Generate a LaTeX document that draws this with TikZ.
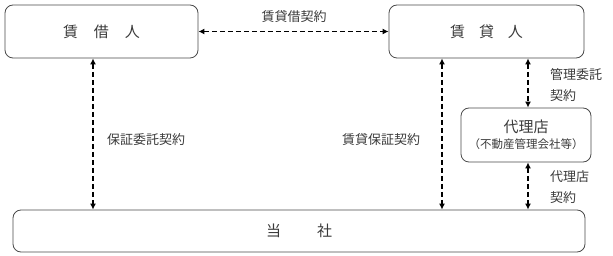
\documentclass[tikz,border=0pt]{standalone}
\usepackage{fontspec}
\newfontfamily\jp{Noto Sans CJK JP}
\usetikzlibrary{arrows.meta}
\definecolor{txt}{HTML}{3A3A3A}
\definecolor{edge}{HTML}{4A4A4A}
\tikzset{
  party/.style={draw=edge, line width=0.8pt, rounded corners=8pt, align=center, inner sep=0pt, text=txt, font=\jp\fontsize{15}{18}\selectfont},
  contract/.style={line width=1.3pt, dash pattern=on 5pt off 3pt, {Latex[length=6pt,width=6pt]}-{Latex[length=6pt,width=6pt]}},
  lbl/.style={text=txt, font=\jp\fontsize{13}{21}\selectfont, inner sep=0pt, align=left},
}
\begin{document}
\begin{tikzpicture}[x=1pt,y=-1pt]
\useasboundingbox (0,0) rectangle (613,256);
\node[party, minimum width=193pt, minimum height=53pt] (lessee) at (101.5,31.5) {賃\hspace{16pt}借\hspace{16pt}人};
\node[party, minimum width=195pt, minimum height=53pt] (lessor) at (486.5,31.5) {賃\hspace{14pt}貸\hspace{14pt}人};
\node[party, minimum width=130pt, minimum height=54pt] (agent) at (526,135) {代理店\\[-2pt]{\fontsize{11.5}{14}\selectfont （不動産管理会社等）}};
\node[party, minimum width=572pt, minimum height=42pt] (us) at (299,231) {当\hspace{36pt}社};
\draw[contract] (lessee.east) -- (lessor.west);
\draw[contract] (lessee.south -| 93,0) -- (us.north -| 93,0);
\draw[contract] (lessor.south -| 442,0) -- (us.north -| 442,0);
\draw[contract] (lessor.south -| 528,0) -- (agent.north -| 528,0);
\draw[contract] (agent.south -| 528,0) -- (us.north -| 528,0);
\node[lbl] (l1) at (294,17) {賃貸借契約};
\node[lbl] (l2) at (146,140) {保証委託契約};
\node[lbl] (l3) at (381,140) {賃貸保証契約};
\node[lbl, anchor=west] (l4) at (550,85) {管理委託\\契約};
\node[lbl, anchor=west] (l5) at (550,187) {代理店\\契約};
\end{tikzpicture}
\end{document}
